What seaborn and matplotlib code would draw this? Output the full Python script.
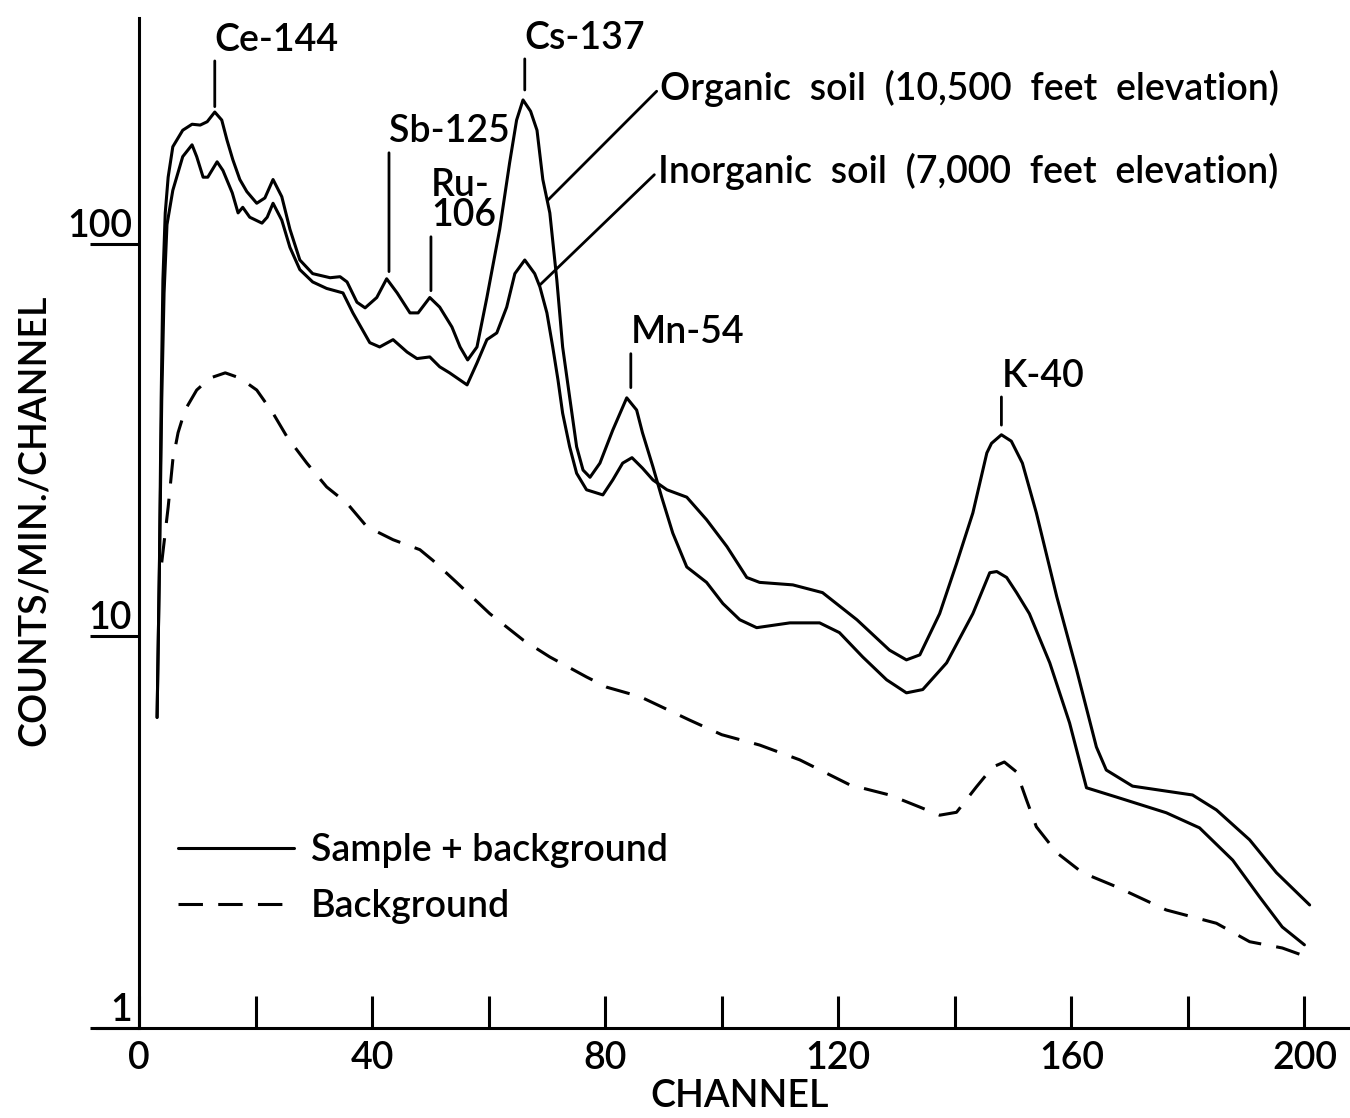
import pandas as pd
import matplotlib
matplotlib.use('Agg')
import matplotlib.pyplot as plt
import seaborn as sns
from matplotlib.ticker import NullLocator

# organic soil (10,500 ft) - sample + background
org_ch = [3.1, 3.5, 3.8, 4.1, 4.5, 5.0, 5.8, 7.5, 9.1, 10.5, 11.7, 13.0, 14.2, 15.1, 16.1, 17.3, 18.5,
          20.2, 21.6, 23.0, 24.5, 25.9, 27.6, 29.8, 32.8, 34.5, 35.7, 37.4, 38.8, 40.8, 42.5, 44.3,
          46.5, 47.9, 49.9, 51.6, 53.7, 55.1, 56.4, 58.0, 59.7, 61.9, 63.6, 64.8, 65.9, 67.2, 68.3,
          69.3, 70.5, 71.7, 72.7, 73.9, 75.1, 76.2, 77.4, 79.1, 81.3, 83.7, 85.4, 86.4, 88.2, 89.7,
          91.6, 94.0, 97.4, 100.2, 103.1, 106.0, 111.7, 116.8, 120.2, 124.2, 128.3, 131.7, 134.5,
          138.6, 143.1, 146.0, 147.2, 148.9, 150.6, 152.8, 156.3, 159.7, 162.6, 167.8, 176.3, 182.0,
          187.7, 192.3, 196.2, 200.0]
org_ct = [6.2, 15, 40, 81, 120, 148, 177, 195, 202, 201, 205, 217, 207, 184, 164, 146, 136,
          127, 131, 146, 132, 109, 91, 84, 82, 82.5, 80, 71, 68.7, 73, 81.5, 75,
          66.7, 66.7, 73, 69, 61.4, 54.6, 50.6, 54.6, 73, 109, 161, 207, 233, 218, 195,
          146, 120, 81, 54.6, 40.7, 30.4, 26.5, 25.4, 27.6, 33.5, 40.5, 37.7, 33, 27, 22.6,
          18.3, 15.0, 13.7, 12.1, 11.0, 10.5, 10.8, 10.8, 10.2, 8.84, 7.73, 7.16, 7.3,
          8.54, 11.4, 14.5, 14.6, 14.1, 12.9, 11.4, 8.54, 6.0, 4.1, 3.88, 3.54, 3.24,
          2.68, 2.16, 1.81, 1.63]

# inorganic soil (7,000 ft) - sample + background
inorg_ch = [3.1, 3.5, 3.9, 4.3, 4.8, 5.8, 7.5, 9.1, 9.9, 11.0, 11.8, 13.4, 14.4, 16.0, 17.0, 17.8,
            19.0, 21.1, 22.0, 23.0, 24.5, 25.9, 27.6, 29.8, 32.2, 35.0, 36.7, 39.6, 41.3, 43.6,
            46.0, 47.7, 49.9, 51.6, 53.3, 56.3, 58.0, 59.7, 61.4, 63.1, 64.5, 66.2, 67.9, 68.8,
            70.0, 71.0, 71.9, 72.7, 73.9, 75.1, 76.8, 79.6, 81.3, 83.0, 84.6, 86.4, 88.2, 90.6,
            94.0, 97.4, 100.9, 104.3, 106.5, 112.2, 117.3, 123.2, 128.8, 131.7, 134.0, 137.4,
            140.3, 143.1, 145.5, 146.3, 148.0, 149.7, 151.6, 154.0, 157.5, 160.9, 164.3, 166.0,
            170.5, 176.3, 180.8, 184.9, 190.6, 195.2, 200.9]
inorg_ct = [6.2, 15, 40, 75, 112, 137, 167, 179, 167, 148, 148, 162, 154, 135, 120, 124,
            117, 113, 117, 127, 115, 98, 86, 80, 77, 75, 66.7, 56, 54.6, 57,
            53, 51, 51.5, 48.6, 46.9, 43.7, 49.7, 57, 59.3, 69, 84, 91, 84, 77.7,
            66.7, 54.6, 45, 37, 30.4, 26, 23.6, 22.9, 25, 27.6, 28.5, 26.8, 25, 23.6,
            22.6, 19.8, 16.9, 14.1, 13.7, 13.5, 12.9, 11.0, 9.2, 8.69, 8.95, 11.4,
            15.3, 20.6, 29.3, 31.0, 32.6, 31.4, 27.6, 20.6, 12.6, 8.2, 5.21, 4.55,
            4.14, 4.02, 3.93, 3.6, 3.02, 2.49, 2.06]

# background
bg_ch = [3.9, 5.0, 5.8, 6.7, 7.9, 9.9, 12.2, 14.8, 17.3, 20.2, 23.0, 25.4, 28.8, 32.2, 35.7, 39.1,
         43.6, 48.2, 50.4, 54.5, 60.2, 65.9, 70.5, 76.8, 80.3, 86.0, 94.5, 100.0, 106.5, 113.4,
         122.0, 128.8, 134.0, 137.4, 140.3, 143.7, 146.5, 148.5, 150.6, 152.3, 154.0, 157.5,
         161.9, 167.8, 176.3, 184.9, 190.6, 196.2, 200.9]
bg_ct = [15.4, 21.3, 28.1, 33, 37.7, 42.4, 45.5, 46.9, 45.5, 42.4, 37, 32.2, 27.6, 24, 21.8, 19,
         17.6, 16.6, 15.6, 13.7, 11.4, 9.77, 8.84, 7.86, 7.4, 7.0, 6.1, 5.6, 5.27, 4.83,
         4.17, 3.93, 3.66, 3.49, 3.55, 4.12, 4.63, 4.77, 4.5, 3.82, 3.26, 2.8,
         2.49, 2.29, 2.0, 1.85, 1.66, 1.6, 1.51]

# peak labels: text, channel of stem, count at stem bottom, count at label
iso_labels = ['Ce-144', 'Sb-125', 'Ru-\n106', 'Cs-137', 'Mn-54', 'K-40']
iso_ch = [13.0, 42.9, 50.1, 66.2, 84.4, 148.0]
iso_tip = [224, 85, 76, 247, 43, 34.5]
iso_text = [331, 193, 129, 335, 59.3, 46]

# soil labels: text, leader start (ch, count), text anchor (ch, count)
soil_labels = ['Organic  soil  (10,500  feet  elevation)', 'Inorganic  soil  (7,000  feet  elevation)']
soil_from = [(70.2, 129.5), (68.8, 78.6)]
soil_to = [(89.4, 250), (89.0, 153)]

x_major = [0, 40, 80, 120, 160, 200]
x_minor = [20, 60, 100, 140, 180]
y_ticks = [1, 10, 100]

frames = []
for name, kind, ch, ct in [('organic', 'Sample + background', org_ch, org_ct),
                           ('inorganic', 'Sample + background', inorg_ch, inorg_ct),
                           ('background', 'Background', bg_ch, bg_ct)]:
    frames.append(pd.DataFrame({'channel': ch, 'counts': ct, 'curve': name, 'kind': kind}))
df = pd.concat(frames, ignore_index=True)

sns.set_style('white', {'axes.edgecolor': 'black', 'text.color': 'black',
                        'xtick.color': 'black', 'ytick.color': 'black',
                        'axes.labelcolor': 'black', 'xtick.bottom': True, 'ytick.left': True})
plt.rcParams['font.family'] = ['Lato', 'DejaVu Sans']
plt.rcParams['font.weight'] = 'semibold'
plt.rcParams['axes.labelweight'] = 'semibold'
FS = 27
LW = 2.2

fig = plt.figure(figsize=(13.5, 11.18), dpi=100)
ax = fig.add_axes([0.0719, 0.0805, 0.9267, 0.9034])

sns.lineplot(data=df, x='channel', y='counts', units='curve', estimator=None,
             style='kind', style_order=['Sample + background', 'Background'],
             dashes={'Sample + background': '', 'Background': (8, 5)},
             color='black', lw=LW, sort=False, ax=ax)

ax.set_yscale('log')
ax.set_xlim(-7.2, 207.5)
ax.set_ylim(1, 377)

for side in ['top', 'right']:
    ax.spines[side].set_visible(False)
ax.spines['left'].set_position(('data', 0))
for side in ['left', 'bottom']:
    ax.spines[side].set_linewidth(LW)
    ax.spines[side].set_color('black')

ax.set_xticks(x_major)
ax.set_xticklabels([str(v) for v in x_major])
ax.set_xticks(x_minor, minor=True)
ax.tick_params(axis='x', which='both', direction='in', length=23, width=LW, pad=9, labelsize=FS)

ax.set_yticks(y_ticks)
ax.set_yticklabels([str(v) for v in y_ticks])
ax.yaxis.set_minor_locator(NullLocator())
ax.tick_params(axis='y', direction='out', length=35, width=LW, pad=-30, labelsize=FS)
for lbl in ax.get_yticklabels():
    lbl.set_va('bottom')

ax.set_xlabel('CHANNEL', fontsize=FS)
ax.xaxis.set_label_coords(0.514, -0.05)
ax.set_ylabel('COUNTS/MIN./CHANNEL', fontsize=FS)
ax.yaxis.set_label_coords(-0.036, 0.503)

arrow = dict(arrowstyle='-', color='black', lw=2, shrinkA=0, shrinkB=0, relpos=(0, 0.5))
for txt, ch, tip, ty in zip(iso_labels, iso_ch, iso_tip, iso_text):
    ax.annotate(txt, xy=(ch, tip), xytext=(ch, ty), textcoords='data',
                ha='left', va='center', fontsize=FS, linespacing=0.85, arrowprops=arrow)
for txt, p0, p1 in zip(soil_labels, soil_from, soil_to):
    ax.annotate(txt, xy=p0, xytext=p1, textcoords='data',
                ha='left', va='center', fontsize=FS, arrowprops=arrow)

handles, labels = ax.get_legend_handles_labels()
leg = ax.legend(handles, labels, frameon=False, loc='upper left', bbox_to_anchor=(0.0647, 0.193),
                handlelength=3.1, handletextpad=0.45, labelspacing=0.55, fontsize=FS,
                borderaxespad=0, borderpad=0)
for h in leg.get_lines():
    h.set_linewidth(LW)
    h.set_color('black')

fig.savefig('out.png', dpi=100)
